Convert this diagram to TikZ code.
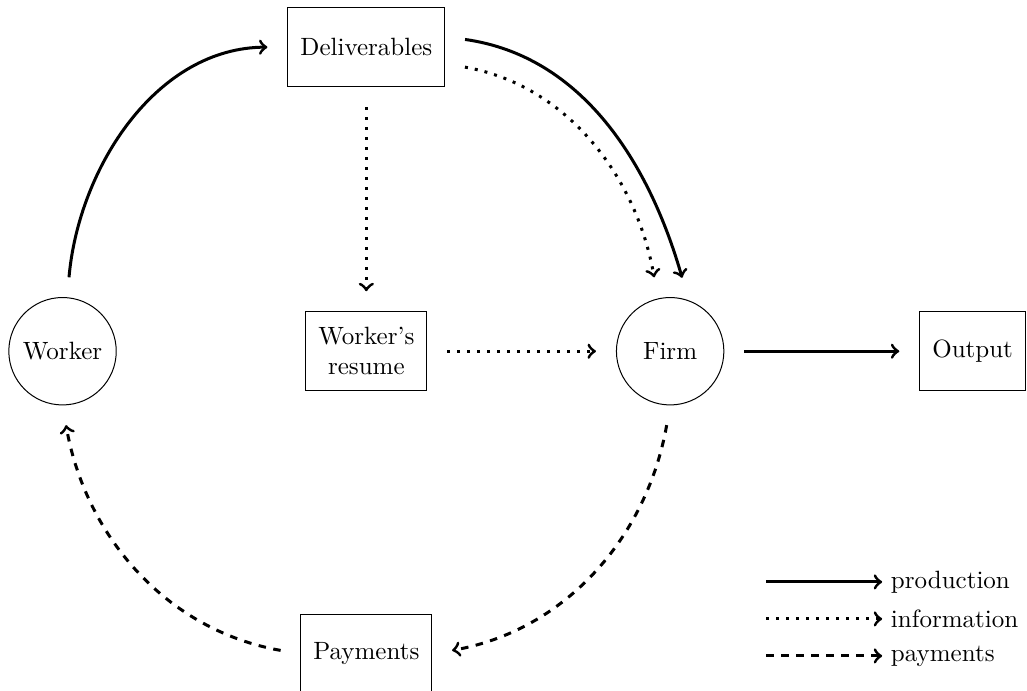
\documentclass[tikz,border=0pt]{standalone}
\usepackage{tikz}
\usetikzlibrary{arrows}
\usetikzlibrary{positioning}
\tikzset{agent node/.style={circle,draw,minimum size=1.51cm,inner sep=0pt}}
\tikzset{item node/.style={rectangle,draw,minimum height=1.11cm,inner xsep=5pt,align=center}}
\tikzset{prod/.style={->,very thick}}
\tikzset{info/.style={->,very thick,dash pattern=on 1.2pt off 2.8pt}}
\tikzset{pay/.style={->,very thick,dashed}}

\begin{document}
\begin{tikzpicture}[>=to]
    \useasboundingbox (0,0) rectangle (14.436,-9.713);

    \node[agent node] (worker) at (0.879,-4.937) {Worker};
    \node[item node] (resume) [right = 2.65cm of worker] {Worker's\\resume};
    \node[agent node] (firm) [right = 2.65cm of resume] {Firm};
    \node[item node] (output) [right = 2.74cm of firm] {Output};
    \node[item node] (deliv) [above = 3.15cm of resume] {Deliverables};
    \node[item node] (payments) [below = 3.13cm of resume] {Payments};

    \path [shorten >=8pt,shorten <=8pt]
    (worker) edge[prod,out=85,in=180] (deliv)
    ([yshift=4.2pt]deliv.east) edge[prod,out=-8,in=106] ([xshift=7pt]firm.north)
    ([yshift=-6.6pt]deliv.east) edge[info,out=-10,in=100] ([xshift=-5pt]firm.north)
    (deliv) edge[info] (resume)
    (resume) edge[info] (firm)
    (firm) edge[prod] (output)
    (firm.south) edge[pay,out=-100,in=10] (payments.east)
    (payments.west) edge[pay,out=170,in=-80] (worker.south);

    % legend
    \coordinate (legprodstart) at (10.77,-8.18);
    \coordinate (leginfostart) at (10.77,-8.70);
    \coordinate (legpaystart) at (10.77,-9.22);
    \node[anchor=west] (legprod) at (12.40,-8.18) {production};
    \node[anchor=west] (leginfo) at (12.40,-8.70) {information};
    \node[anchor=west] (legpay) at (12.40,-9.22) {payments};
    \draw[prod] (legprodstart) -- (legprod);
    \draw[info] (leginfostart) -- (leginfo);
    \draw[pay] (legpaystart) -- (legpay);
\end{tikzpicture}
\end{document}
